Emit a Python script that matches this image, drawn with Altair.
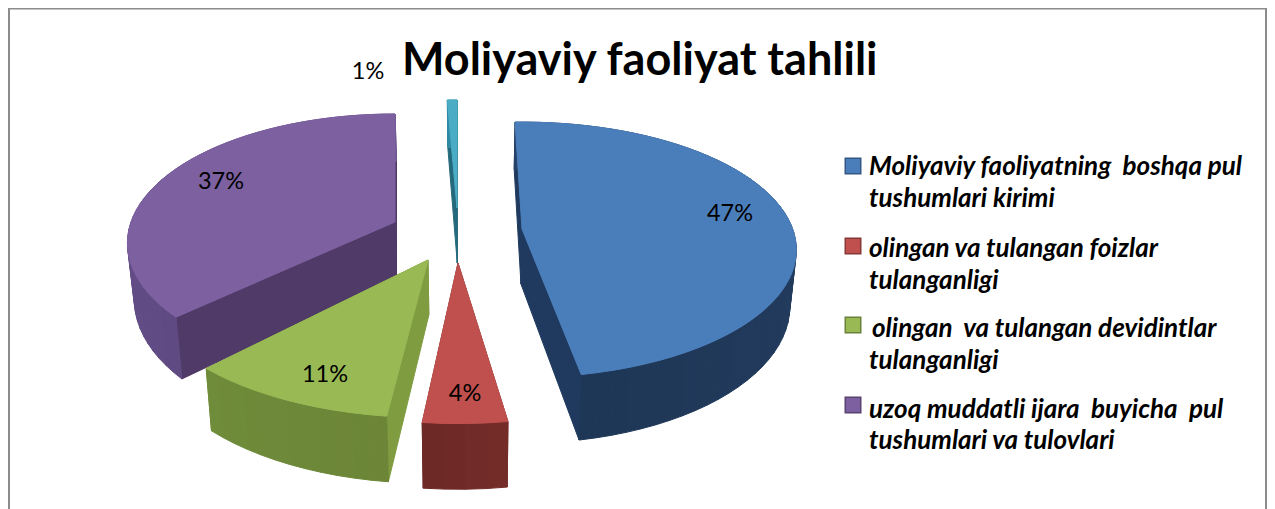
import math
import altair as alt
import pandas as pd

# ---- chart values ----
SLICE_NAMES = ["blue", "red", "green", "purple", "teal"]
SHARES = [47, 4, 11, 37, 1]
PCT_LABELS = ["47%", "4%", "11%", "37%", "1%"]
LEGEND_LINES = [
    "Moliyaviy faoliyatning\u00a0 boshqa pul", "tushumlari kirimi",
    "olingan va tulangan foizlar", "tulanganligi",
    "olingan\u00a0 va tulangan devidintlar", "tulanganligi",
    "uzoq muddatli ijara\u00a0 buyicha\u00a0 pul", "tushumlari va tulovlari",
]
TITLE = "Moliyaviy faoliyat tahlili"

# ---- styles: top, cut face, rim colour A/B ----
TOP = {"blue": "#4a7ebb", "red": "#c0504d", "green": "#98b954", "purple": "#7d60a0", "teal": "#4bacc6"}
CUT = {"blue": "#1f3a5e", "red": "#6f2a27", "green": "#7f9c40", "purple": "#4f3a68", "teal": "#256a7c"}
RIM = {"blue": ("#27426a", "#1f3756"), "red": ("#752d2a", "#6b2825"),
       "green": ("#6c8537", "#6f8c3a"), "purple": ("#5f4a82", "#6f5595"), "teal": ("#2f8ba3", "#2f8ba3")}

# ---- layout of the 3D projection ----
W, H, M = 1259, 501, 8
RX, RY, K, DEPTH = 268, 125.6, 0.163, 55
CONVERGE, XC = 0.02, 470
# apex x, apex y, x scale, y scale, angle added at start, angle added at end
PLACE = {
    "blue": (522, 229, 1.01, 0.99, -1.7, 0.2),
    "red": (458, 263, 1.07, 1.07, 2.4, 2.4),
    "green": (428, 260, 1.06, 1.05, 3.4, 0.3),
    "purple": (395, 222, 0.985, 1.0, 4.4, 3.6),
    "teal": (457, 208, 1.0, 1.0, 1.2, 0),
}
DRAW_ORDER = ["teal", "purple", "blue", "green", "red"]


def proj(name, deg, z, radial=1.0):
    cx, cy, sx, sy, _, _ = PLACE[name]
    t = math.radians(deg)
    u, v = math.sin(t) * radial, -math.cos(t) * radial
    f = 1 / (1 - K * v)
    x = cx + RX * sx * u * f
    return [x + (XC - x) * CONVERGE * z, cy + RY * sy * v * f + DEPTH * f * z]


def mix(a, b, t):
    ca = [int(a[i:i + 2], 16) for i in (1, 3, 5)]
    cb = [int(b[i:i + 2], 16) for i in (1, 3, 5)]
    return "#%02x%02x%02x" % tuple(round(x + (y - x) * t) for x, y in zip(ca, cb))


def feature(points, color):
    ring = points + [points[0]]
    return {"type": "Feature", "properties": {"color": color},
            "geometry": {"type": "Polygon", "coordinates": [ring]}}


features = []
spans = {}
acc = 0
for name, share in zip(SLICE_NAMES, SHARES):
    a0 = acc / 100 * 360
    acc += share
    a1 = acc / 100 * 360
    spans[name] = (a0 + PLACE[name][4], a1 + PLACE[name][5])

for name in DRAW_ORDER:
    a0, a1 = spans[name]
    n = max(4, int((a1 - a0) / 3))
    ang = [a0 + (a1 - a0) * i / n for i in range(n + 1)]
    for edge in (a1, a0):
        features.append(feature([proj(name, edge, 0), proj(name, edge, 1),
                                 proj(name, edge, 1, 0), proj(name, edge, 0, 0)], CUT[name]))
    for i in range(n):
        features.append(feature([proj(name, ang[i], 0), proj(name, ang[i + 1], 0),
                                 proj(name, ang[i + 1], 1), proj(name, ang[i], 1)],
                                mix(RIM[name][0], RIM[name][1], (i + .5) / n)))
    features.append(feature([proj(name, 0, 0, 0)] + [proj(name, a, 0) for a in ang], TOP[name]))

IDENT = {"type": "identity", "scale": 1, "translate": [-M, -M]}

pie = alt.Chart(alt.Data(values=features)).mark_geoshape(strokeWidth=1, opacity=1).encode(
    color=alt.Color("properties.color:N", scale=None),
    stroke=alt.Stroke("properties.color:N", scale=None),
).project(**IDENT)

frame = alt.Chart(alt.Data(values=[{"type": "Feature", "properties": {},
    "geometry": {"type": "LineString",
                 "coordinates": [[9, 512], [9, 8.5], [1266, 8.5], [1266, 512]]}}])).mark_geoshape(
    filled=False, stroke="#8c8c8c", strokeWidth=2).project(**IDENT)

X = alt.X("x:Q", scale=alt.Scale(domain=[M, M + W]), axis=None)
Y = alt.Y("y:Q", scale=alt.Scale(domain=[M + H, M]), axis=None)

pct = pd.DataFrame({"t": PCT_LABELS, "x": [730, 465, 325, 221, 368], "y": [221, 401, 382, 189, 79]})
pct_text = alt.Chart(pct).mark_text(font="Lato", fontSize=23.5, color="#000", align="center", baseline="alphabetic").encode(
    x=X, y=Y, text="t:N")

title_df = pd.DataFrame({"t": [TITLE], "x": [402], "y": [75]})
title_text = alt.Chart(title_df).mark_text(font="Lato", fontSize=45, fontWeight="bold", color="#000",
                                           align="left", baseline="alphabetic").encode(x=X, y=Y, text="t:N")

leg = pd.DataFrame({"t": LEGEND_LINES,
                    "x": [869, 869, 869, 869, 872, 869, 869, 869],
                    "y": [174.5, 206.5, 256.5, 288.5, 336.5, 368.5, 417.5, 448.5]})
leg_text = alt.Chart(leg).mark_text(font="Lato", fontSize=26, fontWeight="bold", fontStyle="italic", color="#000",
                                    align="left", baseline="alphabetic").encode(x=X, y=Y, text="t:N")

sw = pd.DataFrame({"name": ["blue", "red", "green", "purple"], "x": [853, 853, 853, 853], "y": [166, 246, 325, 405]})
sw["c"] = sw["name"].map(TOP)
sw["s"] = sw["name"].map(lambda n: mix(TOP[n], "#000000", .3))
swatches = alt.Chart(sw).mark_square(size=240, opacity=1, filled=True, strokeWidth=1.5).encode(
    x=X, y=Y,
    color=alt.Color("c:N", scale=None),
    stroke=alt.Stroke("s:N", scale=None),
)

chart = alt.layer(frame, pie, pct_text, title_text, swatches, leg_text).resolve_scale(
    x="shared", y="shared", color="independent", stroke="independent"
).properties(width=W, height=H, padding=0, background="white",
             autosize=alt.AutoSizeParams(type="none")).configure_view(stroke=None)

chart.save("out.html", embed_options={"renderer": "svg", "actions": False})
